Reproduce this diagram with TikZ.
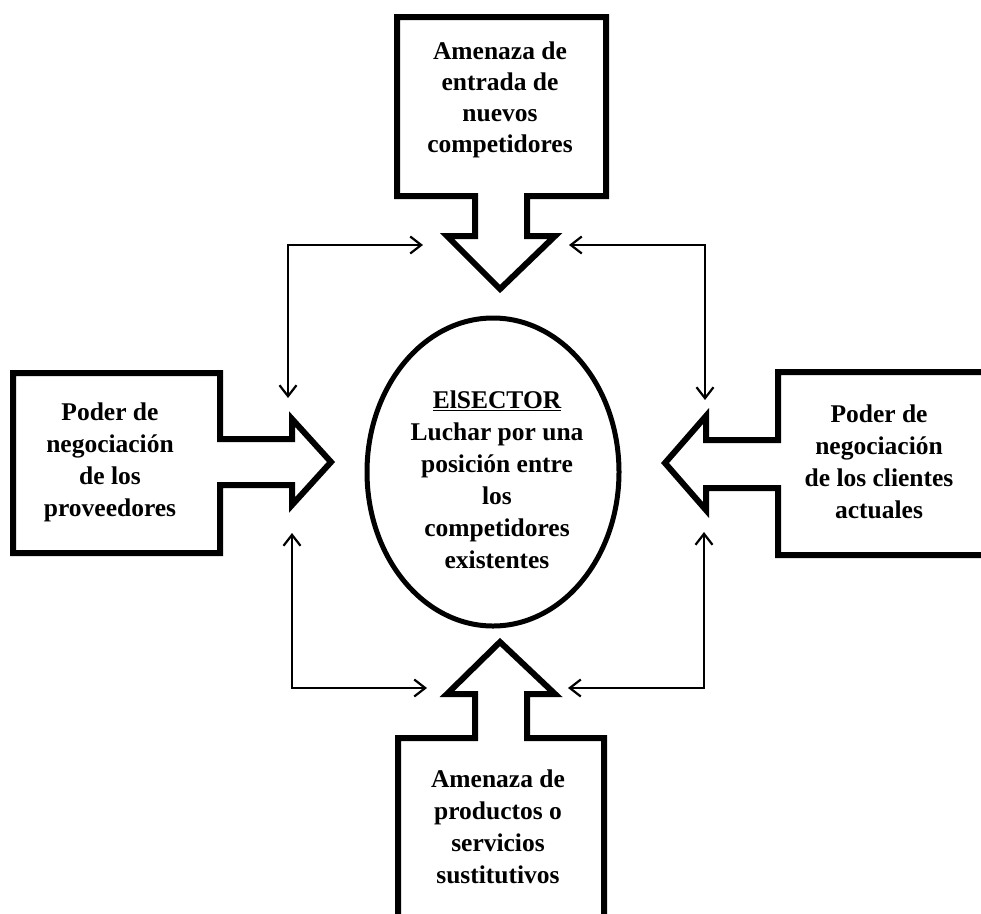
\documentclass[tikz,border=0pt]{standalone}
\usepackage{fontspec}
\setmainfont{Liberation Serif}
\usetikzlibrary{arrows.meta,shapes.geometric}
\begin{document}
\begin{tikzpicture}[x=1pt,y=-1pt,
  bigarrow/.style={line width=6pt, line join=miter, miter limit=10},
  thinlink/.style={line width=2.2pt, {Straight Barb[length=11pt,width=17pt]}-{Straight Barb[length=11pt,width=17pt]}},
  lbl/.style={align=center, font=\fontsize{25.5}{32}\selectfont\bfseries, inner sep=0pt},
  sector/.style={ellipse, draw, line width=5pt, minimum width=252pt, minimum height=308pt, inner sep=0pt}]
\useasboundingbox (0,0) rectangle (981,913);
\clip (0,0) rectangle (981,913);
\fill[white] (0,0) rectangle (981,913);

% top force
\draw[bigarrow] (397,17) -- (606,17) -- (606,196) -- (527,196) -- (527,236) -- (555,236)
  -- (500,289) -- (447,236) -- (475,236) -- (475,196) -- (397,196) -- cycle;
% left force
\draw[bigarrow] (13,373) -- (220,373) -- (220,439) -- (292,439) -- (292,419) -- (331,462)
  -- (292,505) -- (292,485) -- (220,485) -- (220,553) -- (13,553) -- cycle;
% right force
\draw[bigarrow] (1000,372) -- (778,372) -- (778,440) -- (706,440) -- (706,416) -- (665,463)
  -- (706,510) -- (706,488) -- (778,488) -- (778,555) -- (1000,555);
% bottom force
\draw[bigarrow] (398,940) -- (398,738) -- (475,738) -- (475,694) -- (447,694) -- (500,642)
  -- (555,694) -- (527,694) -- (527,738) -- (604,738) -- (604,940);

\node[sector] (sec) at (493,472) {};
\node[lbl] (sectxt) at (497,480) {\underline{ElSECTOR}\\Luchar por una\\posición entre\\los\\competidores\\existentes};

\node[lbl, font=\fontsize{25.5}{31}\selectfont\bfseries] (top) at (500,100) {Amenaza de\\entrada de\\nuevos\\competidores};
\node[lbl] (left) at (110,462) {Poder de\\negociación\\de los\\proveedores};
\node[lbl] (right) at (879,462) {Poder de\\negociación\\de los clientes\\actuales};
\node[lbl] (bottom) at (498,827) {Amenaza de\\productos o\\servicios\\sustitutivos};

\coordinate (tl1) at (288,398);
\coordinate (tl2) at (423,245);
\coordinate (tr1) at (705,400);
\coordinate (tr2) at (569,245);
\coordinate (bl1) at (292,533);
\coordinate (bl2) at (427,688);
\coordinate (br1) at (704,532);
\coordinate (br2) at (568,688);

\draw[thinlink] (tl1) |- (tl2);
\draw[thinlink] (tr2) -| (tr1);
\draw[thinlink] (bl1) |- (bl2);
\draw[thinlink] (br2) -| (br1);
\end{tikzpicture}
\end{document}
